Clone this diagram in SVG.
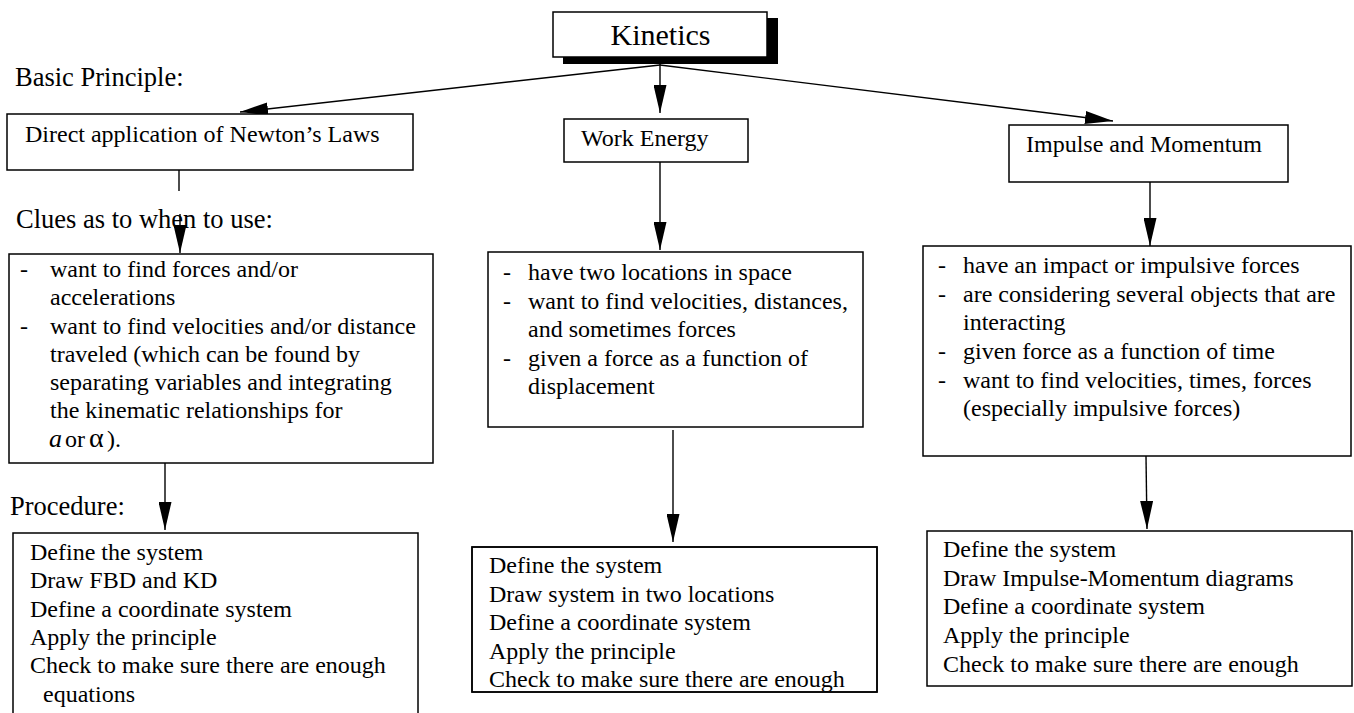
<svg xmlns="http://www.w3.org/2000/svg" width="1354" height="713" viewBox="0 0 1354 713">
<style>
text{font-family:"Liberation Serif","Times New Roman",serif;fill:#000;font-size:24px}
.lbl{font-size:26.5px}
.box{fill:#fff;stroke:#000;stroke-width:1.5}
.con{stroke:#000;stroke-width:1.4;fill:none}
.arr{marker-end:url(#ah)}
</style>
<defs>
<marker id="ah" markerUnits="userSpaceOnUse" markerWidth="28" markerHeight="13" refX="28" refY="6.5" orient="auto">
<path d="M0,0 L28,6.5 L0,13 z" fill="#000"/>
</marker>
<clipPath id="midclip"><rect x="472" y="547" width="405" height="145"/></clipPath>
</defs>
<rect width="1354" height="713" fill="#fff"/>

<g id="labels">
<text class="lbl" x="15" y="86">Basic Principle:</text>
<text class="lbl" x="16" y="228">Clues as to when to use:</text>
<text class="lbl" x="10" y="515">Procedure:</text>
</g>

<g id="connectors">
<line class="con arr" x1="660" y1="65" x2="240" y2="112"/>
<line class="con arr" x1="660" y1="57" x2="660" y2="113"/>
<line class="con arr" x1="660" y1="65" x2="1113" y2="121"/>
<line class="con" x1="179" y1="170" x2="179" y2="191"/>
<line class="con arr" x1="180" y1="214" x2="180" y2="253"/>
<line class="con arr" x1="165" y1="463" x2="165" y2="530"/>
<line class="con arr" x1="660" y1="162" x2="660" y2="250"/>
<line class="con arr" x1="673" y1="430" x2="673" y2="542"/>
<line class="con arr" x1="1150" y1="182" x2="1150" y2="246"/>
<line class="con arr" x1="1146" y1="456" x2="1147" y2="529"/>
</g>

<g id="kinetics">
<rect x="563" y="18" width="215" height="46" fill="#000"/>
<rect class="box" x="553" y="12" width="214" height="45"/>
<text x="660.5" y="45" text-anchor="middle" style="font-size:30px">Kinetics</text>
</g>

<g id="newton">
<rect class="box" x="7" y="114" width="406" height="56"/>
<text x="25" y="142">Direct application of Newton’s Laws</text>
</g>

<g id="workenergy">
<rect class="box" x="564" y="119" width="184" height="43"/>
<text x="581" y="146">Work Energy</text>
</g>

<g id="impulse">
<rect class="box" x="1009" y="125" width="279" height="57"/>
<text x="1026" y="152">Impulse and Momentum</text>
</g>

<g id="newton-clues">
<rect class="box" x="9" y="254" width="424" height="209"/>
<text x="20" y="277">-</text>
<text x="50" y="277">want to find forces and/or</text>
<text x="50" y="305">accelerations</text>
<text x="20" y="334">-</text>
<text x="50" y="334">want to find velocities and/or distance</text>
<text x="50" y="362">traveled (which can be found by</text>
<text x="50" y="390">separating variables and integrating</text>
<text x="50" y="418">the kinematic relationships for</text>
<text x="49" y="447"><tspan font-style="italic" style="font-size:26px">a</tspan><tspan x="65">or</tspan><tspan x="89" style="font-size:28px">α</tspan><tspan x="107">).</tspan></text>
</g>

<g id="workenergy-clues">
<rect class="box" x="488" y="252" width="375" height="175"/>
<text x="503" y="280">-</text>
<text x="528" y="280">have two locations in space</text>
<text x="503" y="308.5">-</text>
<text x="528" y="308.5">want to find velocities, distances,</text>
<text x="528" y="337">and sometimes forces</text>
<text x="503" y="365.5">-</text>
<text x="528" y="365.5">given a force as a function of</text>
<text x="528" y="394">displacement</text>
</g>

<g id="impulse-clues">
<rect class="box" x="923" y="246" width="428" height="210"/>
<text x="938" y="273">-</text>
<text x="963" y="273">have an impact or impulsive forces</text>
<text x="938" y="301.6">-</text>
<text x="963" y="301.6">are considering several objects that are</text>
<text x="963" y="330">interacting</text>
<text x="938" y="359">-</text>
<text x="963" y="359">given force as a function of time</text>
<text x="938" y="388">-</text>
<text x="963" y="388">want to find velocities, times, forces</text>
<text x="963" y="416">(especially impulsive forces)</text>
</g>

<g id="newton-procedure">
<rect class="box" x="13" y="533" width="405" height="200"/>
<text x="30" y="560">Define the system</text>
<text x="30" y="588">Draw FBD and KD</text>
<text x="30" y="617">Define a coordinate system</text>
<text x="30" y="645">Apply the principle</text>
<text x="30" y="673">Check to make sure there are enough</text>
<text x="43" y="702">equations</text>
</g>

<g id="workenergy-procedure">
<rect class="box" x="472" y="547" width="405" height="145"/>
<g clip-path="url(#midclip)">
<text x="489" y="573">Define the system</text>
<text x="489" y="602">Draw system in two locations</text>
<text x="489" y="630">Define a coordinate system</text>
<text x="489" y="659">Apply the principle</text>
<text x="489" y="687">Check to make sure there are enough</text>
</g>
<rect x="472" y="547" width="405" height="145" fill="none" stroke="#000" stroke-width="1.5"/>
</g>

<g id="impulse-procedure">
<rect class="box" x="927" y="531" width="425" height="155"/>
<text x="943" y="557">Define the system</text>
<text x="943" y="586">Draw Impulse-Momentum diagrams</text>
<text x="943" y="614">Define a coordinate system</text>
<text x="943" y="643">Apply the principle</text>
<text x="943" y="672">Check to make sure there are enough</text>
</g>
</svg>
